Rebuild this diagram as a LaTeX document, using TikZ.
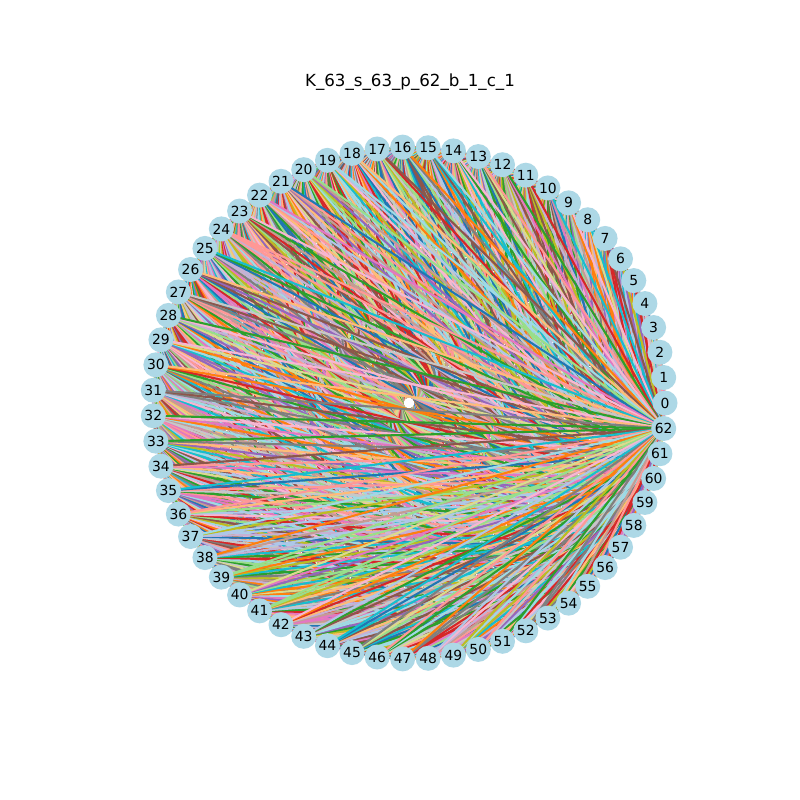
\documentclass[tikz,border=0pt]{standalone}
\usepackage{fontspec}
\setmainfont{DejaVu Sans}
\definecolor{c0}{HTML}{1F77B4}
\definecolor{c1}{HTML}{AEC7E8}
\definecolor{c2}{HTML}{FF7F0E}
\definecolor{c3}{HTML}{FFBB78}
\definecolor{c4}{HTML}{2CA02C}
\definecolor{c5}{HTML}{98DF8A}
\definecolor{c6}{HTML}{D62728}
\definecolor{c7}{HTML}{FF9896}
\definecolor{c8}{HTML}{9467BD}
\definecolor{c9}{HTML}{C5B0D5}
\definecolor{c10}{HTML}{8C564B}
\definecolor{c11}{HTML}{C49C94}
\definecolor{c12}{HTML}{E377C2}
\definecolor{c13}{HTML}{F7B6D2}
\definecolor{c14}{HTML}{7F7F7F}
\definecolor{c15}{HTML}{C7C7C7}
\definecolor{c16}{HTML}{BCBD22}
\definecolor{c17}{HTML}{DBDB8D}
\definecolor{c18}{HTML}{17BECF}
\definecolor{c19}{HTML}{9EDAE5}
\definecolor{nodeblue}{HTML}{ADD8E6}
\tikzset{
  vertex/.style={circle, fill=nodeblue, minimum size=18pt, inner sep=0pt, font=\fontsize{10pt}{12pt}\selectfont},
  edgeline/.style={line width=1.5pt},
  titletext/.style={font=\fontsize{12pt}{14pt}\selectfont}
}
\begin{document}
\begin{tikzpicture}[x=0.72pt,y=-0.72pt]
\useasboundingbox (0,0) rectangle (800,800);
\fill[white] (0,0) rectangle (800,800);
\pgfmathsetseed{42}
\foreach \k in {0,...,62}{
  \pgfmathsetmacro\a{5.7142857*\k}
  \coordinate (p\k) at ({409+256*cos(\a)},{403-256*sin(\a)});
}
\foreach \i in {0,...,61}{
  \pgfmathtruncatemacro\s{\i+1}
  \foreach \j in {\s,...,62}{
    \pgfmathrandominteger{\c}{0}{19}
    \draw[edgeline, draw=c\c] (p\i) -- (p\j);
  }
}
\node[circle, fill=white, minimum size=7pt, inner sep=0pt] (ctr) at (409,403) {};
\foreach \k in {0,...,62}{
  \node[vertex] (n\k) at (p\k) {\k};
}
\node[titletext] (title) at (410,82) {K\_63\_s\_63\_p\_62\_b\_1\_c\_1};
\end{tikzpicture}
\end{document}
